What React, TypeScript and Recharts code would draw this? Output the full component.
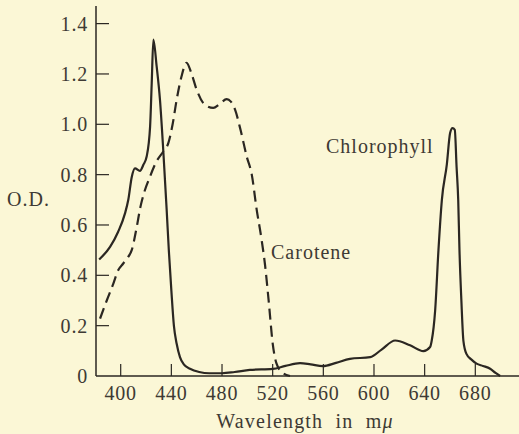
import { LineChart, Line, XAxis, YAxis } from "recharts";

// wavelength (m\u03bc) / optical density
const chlorophyllNm = [383, 391.6, 398, 403.4, 406, 408.7, 411.3, 415.2, 418, 420.5, 423.2, 424.5, 425.8, 428.4, 431, 433.6, 436.3, 438, 440, 442, 444.2, 446.8, 450, 454.7, 462, 470, 480, 490, 502, 520, 530, 541.6, 550, 559.6, 570, 581, 597, 606, 616.7, 628.5, 639, 644.3, 645.6, 648.3, 650.9, 653.6, 657.5, 660.1, 662, 663.8, 665.2, 666.5, 667.5, 669, 670.6, 673, 677, 681, 686, 691.7, 696, 699.6];
const chlorophyllOd = [0.463, 0.513, 0.573, 0.646, 0.7, 0.79, 0.825, 0.815, 0.84, 0.872, 0.99, 1.164, 1.337, 1.23, 1.098, 0.898, 0.66, 0.5, 0.34, 0.2, 0.128, 0.075, 0.045, 0.029, 0.016, 0.011, 0.011, 0.016, 0.024, 0.028, 0.04, 0.051, 0.046, 0.039, 0.052, 0.068, 0.075, 0.105, 0.141, 0.122, 0.099, 0.115, 0.141, 0.261, 0.5, 0.7, 0.84, 0.965, 0.985, 0.978, 0.832, 0.7, 0.5, 0.3, 0.14, 0.088, 0.065, 0.049, 0.04, 0.029, 0.012, 0];

const caroteneNm = [383.7, 389, 394.2, 398, 402, 405.5, 408.7, 412.6, 415.5, 418, 423, 428, 433.6, 437.6, 441, 444.2, 448, 452, 456, 460, 465.2, 469, 473.1, 478, 483.7, 487, 490.3, 495, 499.5, 503.5, 507.4, 511, 514, 517, 520, 523, 528, 533.7];
const caroteneOd = [0.228, 0.3, 0.367, 0.42, 0.447, 0.47, 0.5, 0.59, 0.67, 0.72, 0.79, 0.85, 0.892, 0.925, 1.0, 1.098, 1.19, 1.244, 1.2, 1.137, 1.084, 1.07, 1.065, 1.08, 1.1, 1.09, 1.058, 0.97, 0.872, 0.8, 0.66, 0.55, 0.44, 0.29, 0.13, 0.05, 0.012, 0];

const xTicks = [400, 440, 480, 520, 560, 600, 640, 680];
const yTicks = [0, 0.2, 0.4, 0.6, 0.8, 1.0, 1.2, 1.4];

const chlorophyll = chlorophyllNm.map((nm, i) => ({ nm, od: chlorophyllOd[i] }));
const carotene = caroteneNm.map((nm, i) => ({ nm, od: caroteneOd[i] }));

const ink = "#2b2722";
const textInk = "#3e3a34";
const font = "'Liberation Serif', 'DejaVu Serif', serif";

const YTick = (props: any) => {
  const { x, y, payload } = props;
  const v = payload.value;
  return (
    <g>
      {v !== 0 && <line x1={x + 8} x2={x + 21} y1={y} y2={y} stroke={ink} strokeWidth={1.2} />}
      <text x={x} y={y} dy="0.35em" textAnchor="end" fill={textInk} fontSize={20} fontFamily={font} letterSpacing={0.8}>
        {v === 0 ? "0" : v.toFixed(1)}
      </text>
    </g>
  );
};

const XTick = (props: any) => {
  const { x, y, payload } = props;
  return (
    <g>
      <line x1={x} x2={x} y1={y - 4} y2={y - 16} stroke={ink} strokeWidth={1.2} />
      <text x={x} y={y} dy="1em" textAnchor="middle" fill={textInk} fontSize={20} fontFamily={font} letterSpacing={0.8}>
        {payload.value}
      </text>
    </g>
  );
};

export default function App() {
  return (
    <div style={{ position: "absolute", left: 0, top: 0, width: 519, height: 434, background: "#fbf7d6" }}>
      <LineChart width={519} height={434} margin={{ top: 6, right: 0, bottom: 0, left: 0 }}>
        <XAxis
          type="number"
          dataKey="nm"
          domain={[380.5, 714.5]}
          ticks={xTicks}
          height={58}
          tickSize={0}
          tickMargin={4}
          tickLine={false}
          tick={<XTick />}
          axisLine={{ stroke: ink, strokeWidth: 1.5 }}
          allowDuplicatedCategory={false}
        />
        <YAxis
          type="number"
          dataKey="od"
          domain={[0, 1.47]}
          ticks={yTicks}
          width={96}
          tickSize={0}
          tickMargin={8}
          tickLine={false}
          tick={<YTick />}
          axisLine={{ stroke: ink, strokeWidth: 1.5 }}
        />
        <Line
          data={chlorophyll}
          dataKey="od"
          type="monotone"
          stroke={ink}
          strokeWidth={2.2}
          dot={false}
          isAnimationActive={false}
        />
        <Line
          data={carotene}
          dataKey="od"
          type="monotone"
          stroke={ink}
          strokeWidth={2.2}
          strokeDasharray="11 6"
          dot={false}
          isAnimationActive={false}
        />
        <text x={326} y={153} fill={textInk} fontSize={20} fontFamily={font} letterSpacing={1}>Chlorophyll</text>
        <text x={271} y={259} fill={textInk} fontSize={20} fontFamily={font} letterSpacing={1}>Carotene</text>
        <text x={7} y={206} fill={textInk} fontSize={20} fontFamily={font} letterSpacing={1}>O.D.</text>
        <text x={305} y={428} textAnchor="middle" fill={textInk} fontSize={20} fontFamily={font} letterSpacing={1.2} wordSpacing={6}>
          Wavelength in m<tspan fontStyle="italic">{"\u03bc"}</tspan>
        </text>
      </LineChart>
    </div>
  );
}
